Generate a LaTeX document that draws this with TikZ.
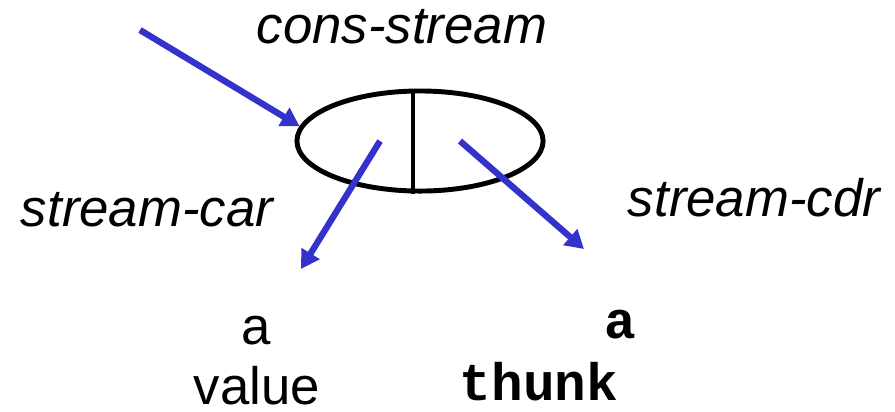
\documentclass[tikz,border=0pt]{standalone}
\usepackage{fontspec}
\setmainfont{Liberation Sans}
\setmonofont{Liberation Mono}
\usetikzlibrary{arrows.meta,positioning,shapes.geometric,calc}
\definecolor{ptrBlue}{HTML}{3333CC}
\tikzset{
  pairCell/.style={
    ellipse,
    draw=black,
    line width=1.4pt,
    minimum width=2.46cm,
    minimum height=1cm,
    inner sep=0pt
  },
  opLabel/.style={
    font=\fontsize{15}{18}\selectfont\itshape,
    anchor=base,
    inner sep=0pt
  },
  plainLabel/.style={
    font=\fontsize{15}{18}\selectfont,
    anchor=base,
    inner sep=0pt
  },
  codeLabel/.style={
    font=\fontsize{15}{18}\selectfont\ttfamily\bfseries,
    anchor=base,
    inner sep=0pt
  },
  ptrArrow/.style={
    -{Triangle[length=5.2pt,width=5.8pt]},
    line width=1.8pt,
    draw=ptrBlue
  }
}

\begin{document}
\begin{tikzpicture}[x=0.01cm, y=-0.01cm]
  \useasboundingbox (0,0) rectangle (895,411);

  \node[pairCell] (cell) at (420,141) {};
  \draw[line width=1.4pt] ($(cell.north)+(-7,0)$) -- ($(cell.south)+(-7,0)$);

  \node[opLabel] (consLbl) at (402,43) {cons-stream};
  \node[opLabel] (carLbl) at (147,226) {stream-car};
  \node[opLabel] (cdrLbl) at (754,216) {stream-cdr};

  \node[plainLabel] (valA) at (256,344) {a};
  \node[plainLabel] (valWord) at (257,404) {value};
  \node[codeLabel] (thunkA) at (620,338) {a};
  \node[codeLabel] (thunkWord) at (539,400) {thunk};

  \coordinate (entry) at (140,30);
  \coordinate (carStart) at ($(cell.center)+(-40,0)$);
  \coordinate (cdrStart) at ($(cell.center)+(40,0)$);
  \coordinate (carTip) at (301,269);
  \coordinate (cdrTip) at (584,249);

  \draw[ptrArrow] (entry) -- (cell.173);
  \draw[ptrArrow] (carStart) -- (carTip);
  \draw[ptrArrow] (cdrStart) -- (cdrTip);
\end{tikzpicture}
\end{document}
